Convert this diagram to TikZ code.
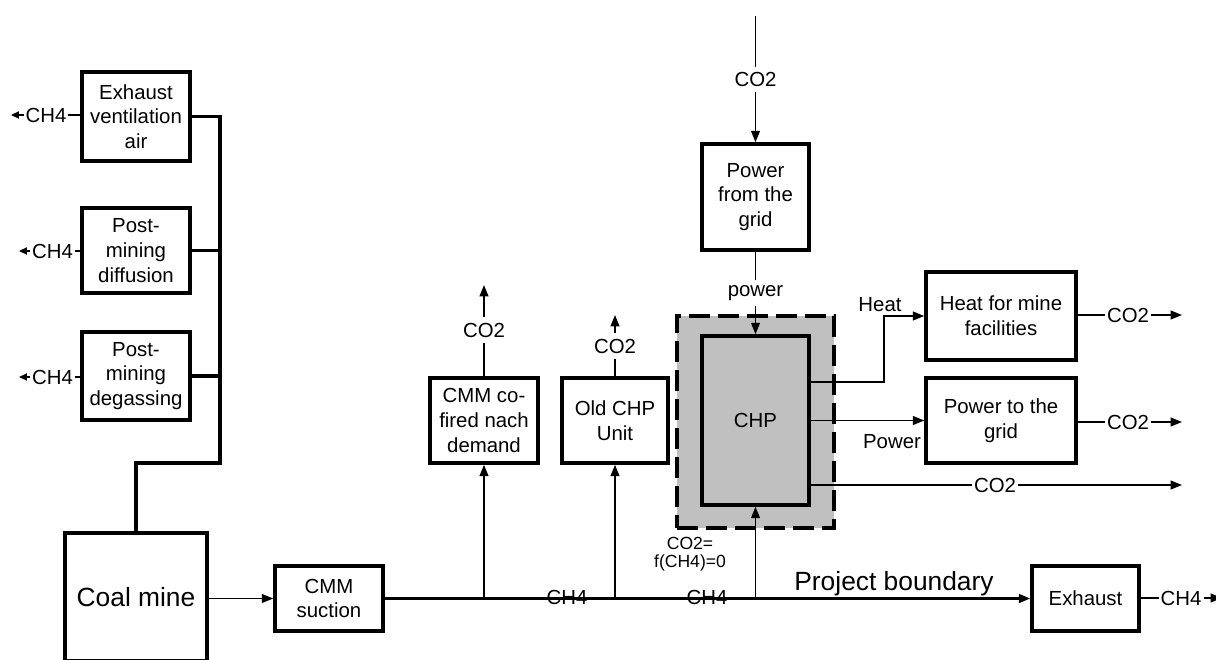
\documentclass[tikz,border=0pt]{standalone}
\usepackage{fontspec}
\setmainfont{Liberation Sans}
\usetikzlibrary{arrows.meta,positioning,calc}
\definecolor{chpgray}{HTML}{C0C0C0}

\begin{document}
\begin{tikzpicture}[x=0.02cm,y=-0.02cm,
    box/.style={draw,line width=2pt,align=center,inner sep=1pt,
      font=\fontsize{11.6}{14}\selectfont},
    lbl/.style={inner xsep=1pt,inner ysep=3pt,font=\fontsize{11.6}{14}\selectfont},
    flow/.style={line width=1pt},
    arr/.style={flow,-{Triangle[length=6.5pt,width=5pt]}},
    smallarr/.style={flow,-{Triangle[length=4.5pt,width=4pt]}},
    bus/.style={line width=2pt},
    mainline/.style={line width=1.3pt,-{Triangle[length=6.5pt,width=5pt]}},
    zone/.style={draw,fill=chpgray,line width=2pt,dash pattern=on 12pt off 4.5pt}]
  \useasboundingbox (0,0) rectangle (1216,659);

  % Methane sources of the mine
  \node[box,minimum width=2.16cm,minimum height=1.78cm] (eva) at (136,116.5) {Exhaust\\ventilation\\air};
  \node[box,minimum width=2.16cm,minimum height=1.70cm] (pmd) at (136,250.5) {Post-\\mining\\diffusion};
  \node[box,minimum width=2.16cm,minimum height=1.76cm] (pmg) at (136,376) {Post-\\mining\\degassing};
  \node[box,minimum width=2.84cm,minimum height=2.56cm,
        font=\fontsize{15}{18}\selectfont] (coal) at (136,597) {Coal mine};

  % CH4 released to the air
  \node[lbl] (ch4a) at (46,115) {CH4};
  \node[lbl] (ch4b) at (52.5,251) {CH4};
  \node[lbl] (ch4c) at (52.5,377) {CH4};
  \coordinate (ch4atip) at (11,115);
  \coordinate (ch4btip) at (19,251);
  \coordinate (ch4ctip) at (19,377);
  \draw[flow] (eva.west |- ch4a) -- (ch4a);
  \draw[smallarr] (ch4a) -- (ch4atip);
  \draw[flow] (pmd.west |- ch4b) -- (ch4b);
  \draw[smallarr] (ch4b) -- (ch4btip);
  \draw[flow] (pmg.west |- ch4c) -- (ch4c);
  \draw[smallarr] (ch4c) -- (ch4ctip);

  % Collecting line down to the mine
  \coordinate (busbot) at (220,463);
  \draw[bus] (eva.east) -| (busbot) -| (coal.north);
  \draw[bus] (pmd.east) -- (pmd.east -| busbot);
  \draw[bus] (pmg.east) -- (pmg.east -| busbot);

  % Suction and main gas line
  \node[box,minimum width=2.16cm,minimum height=1.30cm] (suct) at (329,598.5) {CMM\\suction};
  \node[box,minimum width=2.14cm,minimum height=1.30cm] (exh) at (1085.5,598.5) {Exhaust};
  \draw[arr] (coal.east |- suct.west) -- (suct.west);
  \draw[mainline] (suct.east) -- (exh.west);
  \node[font=\fontsize{11.6}{14}\selectfont] (ch4m1) at (567,597) {CH4};
  \node[font=\fontsize{11.6}{14}\selectfont] (ch4m2) at (707,597) {CH4};
  \node[font=\fontsize{15}{18}\selectfont,anchor=base] (boundary) at (894,590) {Project boundary};

  % Exhaust to the air
  \node[lbl] (ch4exh) at (1181,598) {CH4};
  \coordinate (ch4exhtip) at (1222,598);
  \draw[flow] (exh.east |- ch4exh) -- (ch4exh);
  \draw[arr] (ch4exh) -- (ch4exhtip);

  % Consumers on the gas line
  \node[box,minimum width=2.16cm,minimum height=1.70cm] (cofired) at (484,420.5) {CMM co-\\fired nach\\demand};
  \node[box,minimum width=2.12cm,minimum height=1.70cm] (oldchp) at (615,420.5) {Old CHP\\Unit};
  \coordinate (j1) at (cofired.south |- suct.east);
  \coordinate (j2) at (oldchp.south |- suct.east);
  \draw[arr] (j1) -- (cofired.south);
  \draw[arr] (j2) -- (oldchp.south);

  \node[lbl] (co2cf) at (484,330) {CO2};
  \node[lbl] (co2old) at (615,346) {CO2};
  \coordinate (co2cftip) at (484,285);
  \coordinate (co2oldtip) at (615,315);
  \draw[flow] (cofired.north) -- (co2cf);
  \draw[arr] (co2cf) -- (co2cftip);
  \draw[flow] (oldchp.north) -- (co2old);
  \draw[arr] (co2old) -- (co2oldtip);

  % New CHP
  \node[zone,minimum width=3.14cm,minimum height=4.24cm] (chpzone) at (755.5,422) {};
  \node[box,fill=chpgray,minimum width=2.14cm,minimum height=3.38cm] (chp) at (755.5,420.5) {CHP};
  \coordinate (j3) at (chp.south |- suct.east);
  \draw[arr] (j3) -- (chp.south);
  \node[align=center,font=\fontsize{10}{10.5}\selectfont] (co2f) at (690,554) {CO2=\\f(CH4)=0};

  % Power from the grid
  \node[box,minimum width=2.14cm,minimum height=2.12cm] (pfg) at (755.5,197) {Power\\from the\\grid};
  \coordinate (gridtop) at (755.5,16);
  \node[lbl] (co2grid) at (755.5,79.5) {CO2};
  \node[lbl] (powin) at (755.5,293) {power};
  \draw[flow] (gridtop) -- (co2grid);
  \draw[arr] (co2grid) -- (pfg.north);
  \draw[flow] (pfg.south) -- (powin);
  \draw[arr] (powin) -- (chp.north);

  % CHP outputs
  \node[box,minimum width=3.00cm,minimum height=1.76cm] (heat) at (1001,316) {Heat for mine\\facilities};
  \node[box,minimum width=3.00cm,minimum height=1.70cm] (ptg) at (1001,420.5) {Power to the\\grid};
  \coordinate (heatbend) at (884,316);
  \draw[arr] (chp.east |- 0,382) -| (heatbend) -- (heat.west);
  \node[lbl] (heatlbl) at (880,305) {Heat};
  \draw[arr] (chp.east |- ptg.west) -- (ptg.west);
  \node[lbl] (powlbl) at (892,442) {Power};

  \node[lbl] (co2heat) at (1128,315) {CO2};
  \node[lbl] (co2ptg) at (1128,422) {CO2};
  \node[lbl] (co2chp) at (995,485) {CO2};
  \coordinate (co2heattip) at (1182,315);
  \coordinate (co2ptgtip) at (1182,422);
  \coordinate (co2chptip) at (1182,485);
  \draw[flow] (heat.east |- co2heat) -- (co2heat);
  \draw[arr] (co2heat) -- (co2heattip);
  \draw[flow] (ptg.east |- co2ptg) -- (co2ptg);
  \draw[arr] (co2ptg) -- (co2ptgtip);
  \draw[flow] (chp.east |- co2chp) -- (co2chp);
  \draw[arr] (co2chp) -- (co2chptip);
\end{tikzpicture}
\end{document}
